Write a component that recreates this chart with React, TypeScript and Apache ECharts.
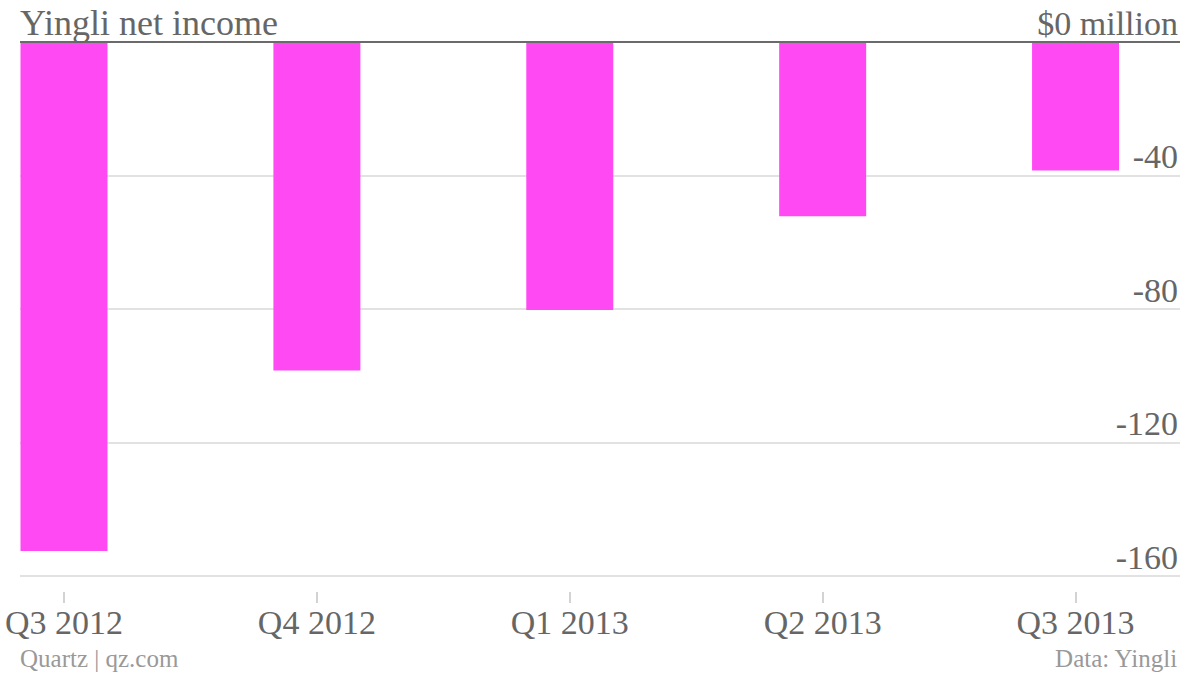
import React, { useEffect, useRef } from "react";
import * as echarts from "echarts";

const categories = ["Q3 2012", "Q4 2012", "Q1 2013", "Q2 2013", "Q3 2013"];
const netIncome = [-152.5, -98.4, -80.3, -52.2, -38.5];
const yMin = -160;
const yMax = 0;
const yInterval = 40;
const titleText = "Yingli net income";
const unitText = "$0 million";
const sourceLeft = "Quartz | qz.com";
const sourceRight = "Data: Yingli";

const FONT = "'Liberation Serif', 'DejaVu Serif', serif";

export default function App() {
  const ref = useRef<HTMLDivElement>(null);
  useEffect(() => {
    if (!ref.current) return;
    const chart = echarts.init(ref.current, null, { renderer: "svg" });
    const positions = categories.map((_, i) => i);
    chart.setOption({
      animation: false,
      backgroundColor: "#ffffff",
      title: {
        text: titleText,
        left: 15,
        top: 0,
        textStyle: { fontFamily: FONT, fontSize: 36, fontWeight: "normal", color: "#666666" },
      },
      grid: { left: 20, right: 20, top: 42, bottom: 100, containLabel: false },
      xAxis: {
        type: "value",
        min: -0.174,
        max: 4.413,
        offset: 16,
        axisLine: { show: false, onZero: false },
        splitLine: { show: false },
        axisTick: {
          show: true,
          customValues: positions,
          length: 11,
          lineStyle: { color: "#c4c4c4", width: 1.5 },
        },
        axisLabel: {
          customValues: positions,
          formatter: (v: number) => categories[Math.round(v)] ?? "",
          fontFamily: FONT,
          fontSize: 34,
          color: "#666666",
          margin: 13,
        },
      },
      yAxis: {
        type: "value",
        position: "right",
        min: yMin,
        max: yMax,
        interval: yInterval,
        axisLine: { show: false },
        axisTick: { show: false },
        splitLine: { show: true, lineStyle: { color: "#e2e2e2", width: 2 } },
        axisLabel: {
          inside: true,
          margin: 2,
          verticalAlign: "bottom",
          padding: [0, 0, 2, 0],
          fontFamily: FONT,
          fontSize: 34,
          color: "#666666",
          formatter: (v: number) => (v === 0 ? unitText : String(v)),
        },
      },
      series: [
        {
          type: "bar",
          data: netIncome.map((v, i) => [positions[i], v]),
          barWidth: 87,
          itemStyle: { color: "#ff4af4" },
          markLine: {
            symbol: "none",
            silent: true,
            label: { show: false },
            lineStyle: { color: "#6a6a6a", width: 2, type: "solid" },
            data: [{ yAxis: 0 }],
          },
        },
      ],
      graphic: [
        {
          type: "text",
          left: 20,
          top: 646,
          style: { text: sourceLeft, fontFamily: FONT, fontSize: 25, fill: "#999999" },
        },
        {
          type: "text",
          right: 22,
          top: 646,
          style: { text: sourceRight, fontFamily: FONT, fontSize: 25, fill: "#999999" },
        },
      ],
    });
    return () => chart.dispose();
  }, []);
  return (
    <div
      ref={ref}
      style={{ position: "fixed", left: 0, top: 0, width: 1200, height: 676 }}
    />
  );
}
